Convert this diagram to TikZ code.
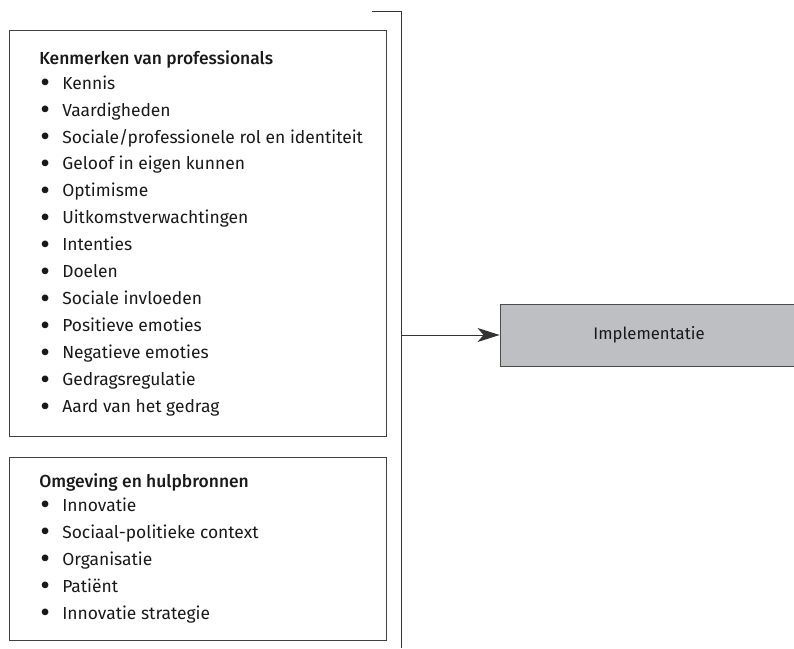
\documentclass[tikz,border=0pt]{standalone}
\usepackage{fontspec}
\setmainfont{Fira Sans}
\newfontfamily\headfont{Fira Sans Medium}
\usetikzlibrary{arrows.meta}
\definecolor{implgray}{RGB}{190,191,194}
\newcommand{\bul}{\hspace*{0.03cm}\makebox[0.545cm][l]{\raisebox{-0.2em}{\scalebox{1.7}{\textbullet}}}}

\begin{document}
\begin{tikzpicture}[
  framebox/.style={rectangle, draw=black!75, line width=0.6pt,
    minimum width=9.425cm, inner sep=0pt, anchor=north west},
  listtext/.style={align=left, anchor=north west, inner sep=0pt,
    text=black!90, font=\fontsize{12.4}{19.2}\selectfont},
  implbox/.style={rectangle, draw=black!70, line width=0.6pt, fill=implgray,
    minimum width=7.45cm, minimum height=1.55cm, text=black!90,
    font=\fontsize{11.9}{13}\selectfont},
  conn/.style={draw=black!80, line width=0.6pt},
  arr/.style={conn, -{Stealth[length=0.55cm, width=0.35cm, inset=0.15cm]}}
]
\useasboundingbox (0,0) rectangle (19.85,-16.225);

% Boxes on the left
\node[framebox, minimum height=10.15cm] (profbox) at (0.225,-0.75) {};
\node[framebox, minimum height=4.575cm] (envbox) at (0.225,-11.425) {};

% Box contents
\node[listtext] (proflist) at (0.975,-1.27) {{\headfont Kenmerken van professionals}\\[-2.1pt]
  \bul Kennis\\
  \bul Vaardigheden\\
  \bul Sociale/professionele rol en identiteit\\
  \bul Geloof in eigen kunnen\\
  \bul Optimisme\\
  \bul Uitkomstverwachtingen\\
  \bul Intenties\\
  \bul Doelen\\
  \bul Sociale invloeden\\
  \bul Positieve emoties\\
  \bul Negatieve emoties\\
  \bul Gedragsregulatie\\
  \bul Aard van het gedrag};
\node[listtext] (envlist) at (0.975,-11.825) {{\headfont Omgeving en hulpbronnen}\\[-2.1pt]
  \bul Innovatie\\
  \bul Sociaal-politieke context\\
  \bul Organisatie\\
  \bul Pati\"ent\\
  \bul Innovatie strategie};

% Bracket joining both boxes
\coordinate (brtop) at (9.3,-0.275);
\coordinate (brcorner) at (10.04,-0.275);
\coordinate (brend) at (10.04,-16.2);
\draw[conn] (brtop) -- (brcorner) -- (brend);

% Outcome
\node[implbox] (impl) at (16.225,-8.375) {Implementatie};
\coordinate (arrstart) at (10.04,-8.375);
\draw[arr] (arrstart) -- (impl.west);

\end{tikzpicture}
\end{document}
